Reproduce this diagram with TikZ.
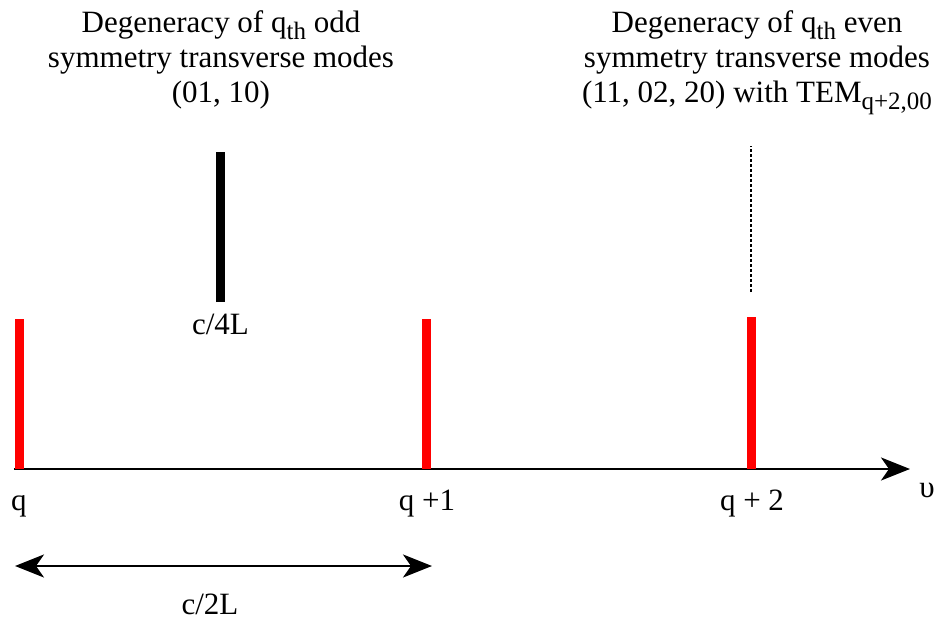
\documentclass[tikz,border=0pt]{standalone}
\usepackage{fontspec}
\setmainfont{Liberation Serif}
\usetikzlibrary{positioning, arrows.meta}

\newcommand{\lowsub}[1]{\raisebox{-7pt}{\fontsize{25}{25}\selectfont #1}}

\begin{document}
\begin{tikzpicture}[
        x=1pt, y=-1pt,
        every node/.style={font=\fontsize{31}{35}\selectfont, align=center, inner sep=0pt},
        redbar/.style={red, line width=9pt},
        blackbar/.style={black, line width=9pt},
        dashline/.style={black, line width=1.8pt, dash pattern=on 3pt off 2pt},
        >={Stealth[length=29pt, width=23pt, inset=8pt]}
    ]
    \useasboundingbox (0,0) rectangle (946,619);

    % frequency axis
    \coordinate (origin) at (14,469);
    \coordinate (axisend) at (910,469);
    \draw[line width=2.6pt, ->] (origin) -- (axisend);

    % longitudinal modes
    \coordinate (q0bot) at (19.5,469);
    \coordinate (q0top) at (19.5,319);
    \coordinate (q1bot) at (426,469);
    \coordinate (q1top) at (426,319);
    \coordinate (q2bot) at (751.5,469);
    \coordinate (q2top) at (751.5,317);
    \draw[redbar] (q0bot) -- (q0top);
    \draw[redbar] (q1bot) -- (q1top);
    \draw[redbar] (q2bot) -- (q2top);

    % transverse modes
    \coordinate (oddbot) at (220.5,302);
    \coordinate (oddtop) at (220.5,152);
    \draw[blackbar] (oddbot) -- (oddtop);
    \coordinate (evenbot) at (751,292);
    \coordinate (eventop) at (751,146);
    \draw[dashline] (evenbot) -- (eventop);

    % labels
    \node (lq0) [anchor=base] at (19,510) {q};
    \node (lq1) [anchor=base] at (427,510) {q +1};
    \node (lq2) [anchor=base] at (752,510) {q + 2};
    \node (lnu) [anchor=base] at (927,497) {υ};
    \node (lodd) [below=12pt of oddbot] {c/4L};

    \node (oddtext) [anchor=base] at (221,102) {Degeneracy of q\lowsub{th} odd\\
        symmetry transverse modes\\(01, 10)};
    \node (eventext) [anchor=base] at (757,102) {Degeneracy of q\lowsub{th} even\\
        symmetry transverse modes\\(11, 02, 20) with TEM\lowsub{q+2,00}};

    % free spectral range
    \coordinate (fsrl) at (15,566);
    \coordinate (fsrr) at (432,566);
    \draw[line width=2.6pt, <->] (fsrl) -- (fsrr);
    \node (lfsr) [anchor=base] at (210,614) {c/2L};

\end{tikzpicture}
\end{document}
